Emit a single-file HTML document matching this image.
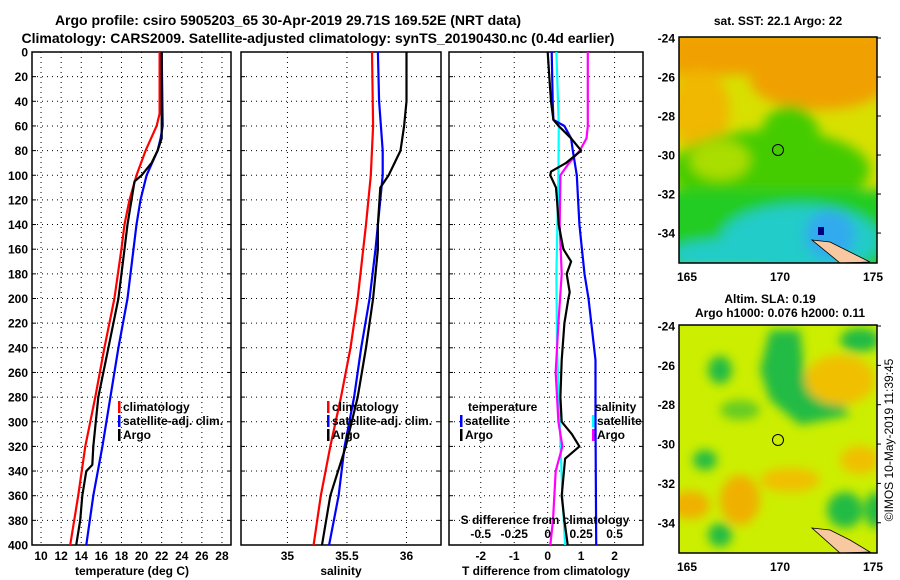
<!DOCTYPE html>
<html><head><meta charset="utf-8"><style>
html,body{margin:0;padding:0;background:#fff;}
svg{display:block;font-family:"Liberation Sans",sans-serif;font-weight:bold;}
</style></head><body>
<svg id="chart" width="900" height="580" viewBox="0 0 900 580" xmlns="http://www.w3.org/2000/svg">
<defs>
<filter id="blur1" x="-20%" y="-20%" width="140%" height="140%"><feGaussianBlur stdDeviation="6"/></filter>
<filter id="blur2" x="-20%" y="-20%" width="140%" height="140%"><feGaussianBlur stdDeviation="5"/></filter>
<clipPath id="clipTop"><rect x="679" y="37" width="198" height="226"/></clipPath>
<clipPath id="clipBot"><rect x="679" y="325" width="198" height="228"/></clipPath>
</defs>
<text x="288" y="25" font-size="14" text-anchor="middle">Argo profile: csiro 5905203_65 30-Apr-2019 29.71S 169.52E (NRT data)</text>
<text x="318" y="43" font-size="14" text-anchor="middle">Climatology: CARS2009. Satellite-adjusted climatology: synTS_20190430.nc (0.4d earlier)</text>
<g id="panels"></g>
<g id="maps">
 <g clip-path="url(#clipTop)">
  <rect x="679" y="37" width="198" height="226" fill="#d8e000"/>
  <g filter="url(#blur1)">
   <rect x="670" y="30" width="220" height="45" fill="#f0a000"/>
   <ellipse cx="820" cy="80" rx="70" ry="30" fill="#f0a000"/>
   <ellipse cx="700" cy="110" rx="30" ry="40" fill="#f0b800"/>
   <ellipse cx="770" cy="170" rx="100" ry="40" fill="#44cc00"/>
   <ellipse cx="790" cy="140" rx="30" ry="35" fill="#44cc00"/>
   <rect x="660" y="190" width="240" height="80" fill="#22cc22"/>
   <ellipse cx="800" cy="240" rx="80" ry="35" fill="#22ccc8"/>
   <ellipse cx="720" cy="255" rx="50" ry="15" fill="#22ccc8"/>
   <ellipse cx="830" cy="235" rx="25" ry="25" fill="#30aaee"/>
   <ellipse cx="720" cy="160" rx="30" ry="20" fill="#aadd00"/>
  </g>
  <rect x="818" y="227" width="6" height="8" fill="#000080"/>
  <path d="M812 240 L830 242 L850 252 L870 262 L840 263 Z" fill="#f8c8a0" stroke="#000" stroke-width="0.8"/>
 </g>
 <rect x="679" y="37" width="198" height="226" fill="none" stroke="#000" stroke-width="1.5"/>
 <circle cx="778" cy="150" r="5.5" fill="none" stroke="#000" stroke-width="1"/>
 <g clip-path="url(#clipBot)">
  <rect x="679" y="325" width="198" height="228" fill="#ccee00"/>
  <g filter="url(#blur2)">
   <path d="M770 330 L800 330 L805 380 L840 400 L850 415 L800 425 L770 400 L760 370 Z" fill="#22bb44"/>
   <ellipse cx="740" cy="410" rx="20" ry="10" fill="#66cc22"/>
   <ellipse cx="720" cy="370" rx="12" ry="14" fill="#22bb44"/>
   <ellipse cx="840" cy="380" rx="35" ry="25" fill="#f0c000"/>
   <ellipse cx="705" cy="460" rx="12" ry="10" fill="#22bb44"/>
   <ellipse cx="690" cy="505" rx="20" ry="14" fill="#f0b000"/>
   <ellipse cx="740" cy="500" rx="20" ry="25" fill="#f0b000"/>
   <ellipse cx="790" cy="480" rx="30" ry="12" fill="#f0c000"/>
   <ellipse cx="845" cy="510" rx="18" ry="18" fill="#22bb44"/>
   <ellipse cx="875" cy="510" rx="10" ry="18" fill="#22bb44"/>
   <ellipse cx="720" cy="535" rx="12" ry="12" fill="#22bb44"/>
   <ellipse cx="860" cy="340" rx="20" ry="12" fill="#22bb44"/>
   <ellipse cx="860" cy="460" rx="20" ry="14" fill="#f0c000"/>
  </g>
  <path d="M812 528 L830 530 L850 540 L870 552 L840 553 Z" fill="#f8c8a0" stroke="#000" stroke-width="0.8"/>
 </g>
 <rect x="679" y="325" width="198" height="228" fill="none" stroke="#000" stroke-width="1.5"/>
 <circle cx="778" cy="440" r="5.5" fill="none" stroke="#000" stroke-width="1"/>
 <text x="778" y="25" font-size="12" text-anchor="middle">sat. SST: 22.1 Argo: 22</text>
 <text x="770" y="303" font-size="12" text-anchor="middle">Altim. SLA: 0.19</text>
 <text x="780" y="317" font-size="12" text-anchor="middle">Argo h1000: 0.076 h2000: 0.11</text>
 <text transform="translate(893,440) rotate(-90)" font-size="12" font-weight="normal" text-anchor="middle">©IMOS 10-May-2019 11:39:45</text>
 <g id="mapaxes"></g>
</g>
</svg>
<script>
const depthTicks = [0,20,40,60,80,100,120,140,160,180,200,220,240,260,280,300,320,340,360,380,400];
const tempTicks = [10,12,14,16,18,20,22,24,26,28];
const salTicks = [35,35.5,36];
const tdiffTicks = [-2,-1,0,1,2];
const sdiffTicks = [-0.5,-0.25,0,0.25,0.5];
const sdiffLabels = ['-0.5','-0.25','0','0.25','0.5'];

const tClimDepth = [0,50,60,80,100,120,140,160,200,240,280,320,360,400];
const tClimVal   = [21.8,21.8,21.5,20.4,19.5,18.8,18.3,18.0,17.3,16.3,15.4,14.4,13.7,12.9];
const tSatDepth  = [0,60,70,80,100,120,140,160,200,240,280,320,360,400];
const tSatVal    = [22.0,22.1,21.9,21.6,20.5,19.9,19.5,19.2,18.6,17.7,16.9,16.1,15.2,14.5];
const tArgoDepth = [0,70,80,90,100,105,120,140,160,200,240,280,320,335,340,360,380,400];
const tArgoVal   = [22.0,22.0,21.6,21.0,20.0,19.3,19.0,18.6,18.3,17.7,16.7,15.7,15.2,15.1,14.5,14.1,13.9,13.5];

const sClimDepth = [0,60,100,140,200,240,280,320,360,400];
const sClimVal   = [35.71,35.72,35.70,35.66,35.59,35.53,35.45,35.36,35.28,35.22];
const sSatDepth  = [0,40,80,100,120,160,200,240,280,320,360,400];
const sSatVal    = [35.76,35.77,35.80,35.80,35.78,35.74,35.69,35.62,35.56,35.48,35.43,35.35];
const sArgoDepth = [0,40,60,80,90,100,110,140,160,200,240,280,320,360,400];
const sArgoVal   = [36.0,36.0,35.98,35.95,35.9,35.85,35.78,35.76,35.76,35.72,35.66,35.59,35.49,35.36,35.29];

const dTSatDepth = [0,40,55,60,70,80,100,140,180,200,250,300,400];
const dTSatVal   = [0.12,0.15,0.17,0.5,0.7,0.75,0.87,0.95,1.1,1.22,1.43,1.43,1.45];
const dTArgoDepth = [0,20,40,55,60,70,80,90,97,100,110,120,140,160,170,180,195,200,220,250,280,300,310,320,330,360,380,400];
const dTArgoVal   = [0,0.05,0.1,0.17,0.33,0.7,1.0,0.55,0.1,0.08,0.25,0.28,0.33,0.47,0.7,0.57,0.66,0.62,0.5,0.42,0.38,0.42,0.72,0.95,0.52,0.42,0.5,0.6];
const dSSatDepth = [0,60,100,180,240,300,360,400];
const dSSatVal   = [0.065,0.083,0.08,0.065,0.07,0.09,0.11,0.13];
const dSArgoDepth = [0,60,70,80,90,100,140,180,220,260,300,320,340,380,400];
const dSArgoVal   = [0.30,0.30,0.29,0.24,0.16,0.095,0.09,0.105,0.08,0.06,0.08,0.11,0.06,0.04,0.02];

const latTicks = [-24,-26,-28,-30,-32,-34];
const lonTicks = [165,170,175];

const NS='http://www.w3.org/2000/svg';
const root=document.getElementById('panels');
function mk(tag,attrs,parent){const e=document.createElementNS(NS,tag);for(const k in attrs)e.setAttribute(k,attrs[k]);(parent||root).appendChild(e);return e;}
const Y0=52, Y1=545;
const yScale=d=>Y0+(d/400)*(Y1-Y0);

const panels=[
 {name:'temperature',x0:32,x1:231,d0:9.1,d1:28.9},
 {name:'salinity',x0:241,x1:441,d0:34.61,d1:36.29},
 {name:'difference',x0:449,x1:643,d0:-2.95,d1:2.85}
];
panels.forEach(p=>{p.sx=v=>p.x0+(v-p.d0)/(p.d1-p.d0)*(p.x1-p.x0);});
const [P1,P2,P3]=panels;
const sdx=v=>P3.sx(v*4);

function gridAndFrame(p,xticks,labels){
 const g=mk('g',{});
 
 
 depthTicks.forEach(d=>{
  if(d>0&&d<400){const l=mk('line',{x1:p.x0,x2:p.x1,y1:yScale(d),y2:yScale(d),stroke:'#000','stroke-width':1,'stroke-dasharray':'1,4'},g);
  }
  mk('line',{x1:p.x0,x2:p.x0+4,y1:yScale(d),y2:yScale(d),stroke:'#000'},g);
  mk('line',{x1:p.x1-4,x2:p.x1,y1:yScale(d),y2:yScale(d),stroke:'#000'},g);
 });
 xticks.forEach((v,i)=>{
  const x=p.sx(v);
  const l=mk('line',{x1:x,x2:x,y1:Y0,y2:Y1,stroke:'#000','stroke-width':1,'stroke-dasharray':'1,4'},g);
  
  const t=mk('text',{x:x,y:560,'font-size':12,'text-anchor':'middle'},g);
  t.textContent=labels[i];
  
 });
 const r=mk('rect',{x:p.x0,y:Y0,width:p.x1-p.x0,height:Y1-Y0,fill:'none',stroke:'#000','stroke-width':1.5},g);
 
 return g;
}
gridAndFrame(P1,tempTicks,tempTicks.map(String));
gridAndFrame(P2,salTicks,salTicks.map(String));
gridAndFrame(P3,tdiffTicks,tdiffTicks.map(String));
depthTicks.forEach(d=>{
 const t=mk('text',{x:28,y:yScale(d)+4.5,'font-size':12,'text-anchor':'end'});
 t.textContent=d;
 
});
[['temperature (deg C)',132],['salinity',341],['T difference from climatology',546]].forEach(([s,x])=>{
 const t=mk('text',{x:x,y:575,'font-size':12,'text-anchor':'middle'});t.textContent=s;
 
});

function line(depths,vals,sx,color,name){
 const pts=depths.map((d,i)=>sx(vals[i]).toFixed(1)+','+yScale(d).toFixed(1)).join(' ');
 const l=mk('polyline',{points:pts,fill:'none',stroke:color,'stroke-width':2.2,'stroke-linejoin':'round'});
 
 
}
line(tClimDepth,tClimVal,P1.sx,'#ff0000','temp-climatology-line');
line(tSatDepth,tSatVal,P1.sx,'#0000ff','temp-satellite-line');
line(tArgoDepth,tArgoVal,P1.sx,'#000000','temp-argo-line');
line(sClimDepth,sClimVal,P2.sx,'#ff0000','sal-climatology-line');
line(sSatDepth,sSatVal,P2.sx,'#0000ff','sal-satellite-line');
line(sArgoDepth,sArgoVal,P2.sx,'#000000','sal-argo-line');
line(dSSatDepth,dSSatVal,sdx,'#00ffff','sdiff-satellite-line');
line(dSArgoDepth,dSArgoVal,sdx,'#ff00ff','sdiff-argo-line');
line(dTSatDepth,dTSatVal,P3.sx,'#0000ff','tdiff-satellite-line');
line(dTArgoDepth,dTArgoVal,P3.sx,'#000000','tdiff-argo-line');

// S diff internal axis (drawn over lines)
{const t=mk('text',{x:545,y:524,'font-size':12,'text-anchor':'middle'});t.textContent='S difference from climatology';
 }
sdiffTicks.forEach((v,i)=>{
 const t=mk('text',{x:sdx(v),y:538,'font-size':12,'text-anchor':'middle'});t.textContent=sdiffLabels[i];
 
});

function legend(x,y,color,label,name){
 const g=mk('g',{});
 
 if(color) mk('rect',{x:x,y:y-10,width:2.5,height:12,fill:color},g);
 const t=mk('text',{x:x+5,y:y,'font-size':12},g);t.textContent=label;
}
legend(118,411,'#ff0000','climatology','legend-climatology');
legend(118,425,'#0000ff','satellite-adj. clim.','legend-satellite');
legend(118,439,'#000000','Argo','legend-argo');
legend(327,411,'#ff0000','climatology','legend-climatology-2');
legend(327,425,'#0000ff','satellite-adj. clim.','legend-satellite-2');
legend(327,439,'#000000','Argo','legend-argo-2');
legend(463,411,null,'temperature','legend-temperature-header');
legend(460,425,'#0000ff','satellite','legend-t-satellite');
legend(460,439,'#000000','Argo','legend-t-argo');
legend(590,411,null,'salinity','legend-salinity-header');
legend(592,425,'#00ffff','satellite','legend-s-satellite');
legend(592,439,'#ff00ff','Argo','legend-s-argo');

// map axes
const ma=document.getElementById('mapaxes');
[[37,263],[325,553]].forEach(([t,b])=>{
 latTicks.forEach(lat=>{
  const y=t+1+(-24-lat)*((b-t)*0.0863);
  const tx=mk('text',{x:675,y:y+4.5,'font-size':12,'text-anchor':'end'},ma);tx.textContent=lat;
  
  mk('line',{x1:877,x2:881,y1:y,y2:y,stroke:'#000'},ma);
 });
 lonTicks.forEach(lon=>{
  const x=687+(lon-165)*18.6;
  const tx=mk('text',{x:x,y:b+18,'font-size':12,'text-anchor':'middle'},ma);tx.textContent=lon;
  
 });
});
</script>
</body></html>
